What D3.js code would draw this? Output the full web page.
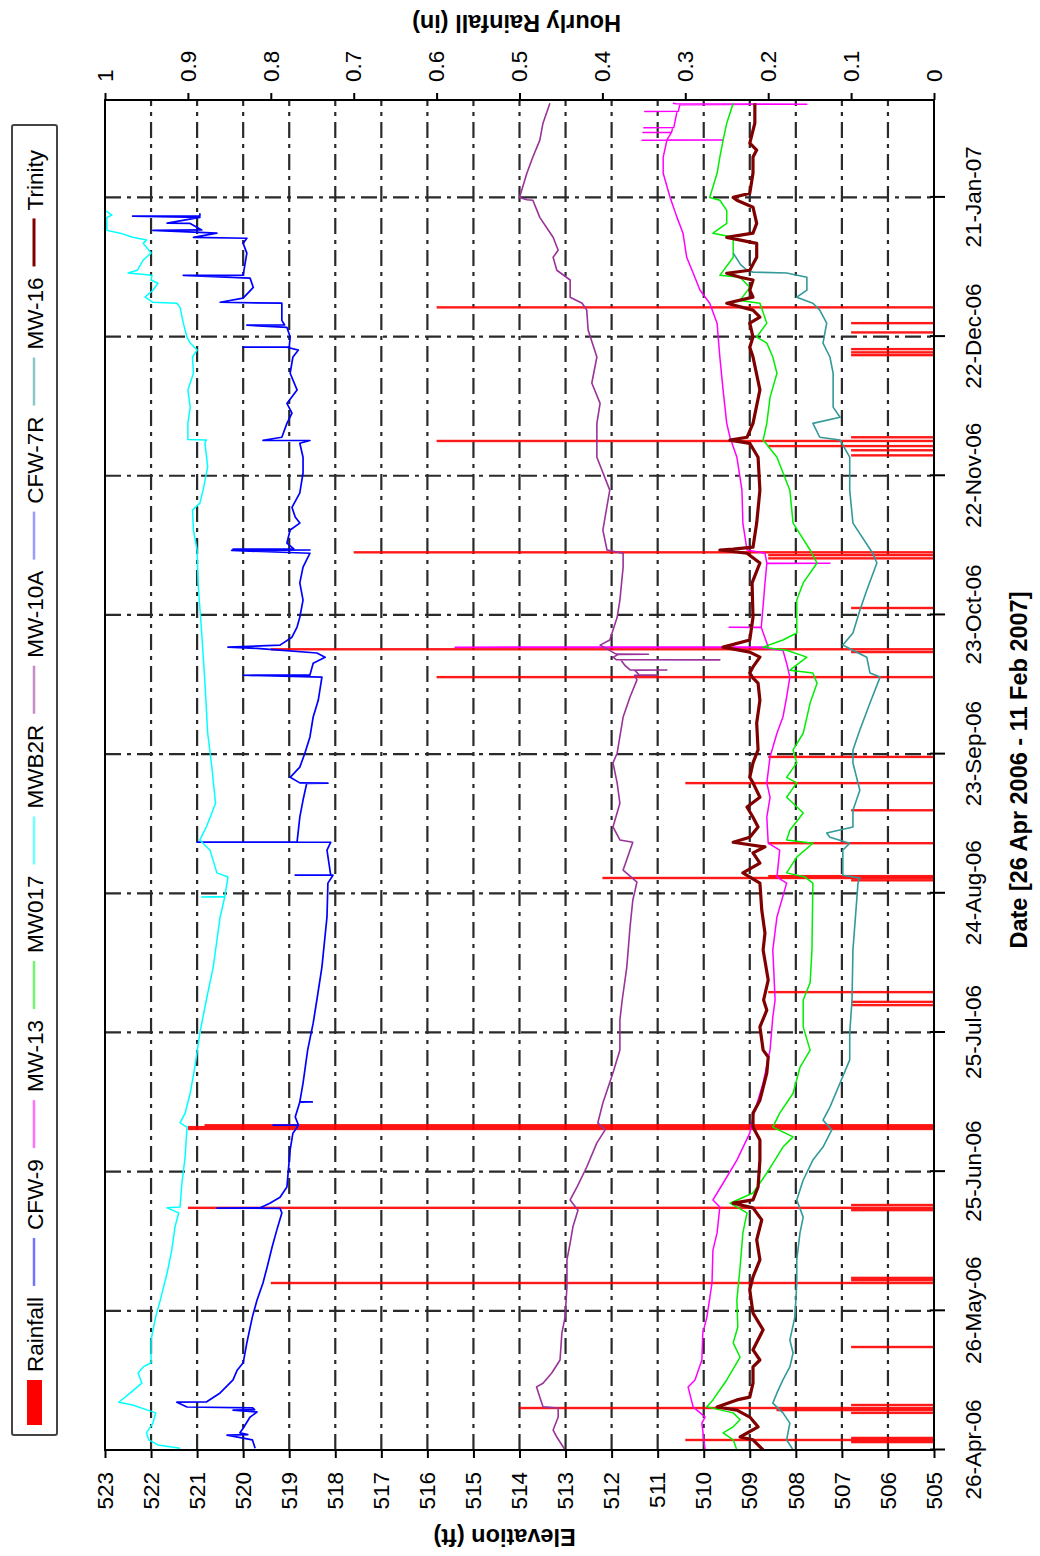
<!DOCTYPE html>
<html>
<head>
<meta charset="utf-8">
<script src="https://cdn.jsdelivr.net/npm/d3@7"></script>
<style>
  body { margin: 0; background: #fff; }
  svg { display: block; }
  text { font-family: "Liberation Sans", Arial, sans-serif; fill: #000; }
</style>
</head>
<body>
<svg id="chart" width="1040" height="1556"></svg>
<script>
// Period of record
const startMs = Date.UTC(2006, 3, 26);
const endMs = Date.UTC(2007, 1, 11);

// Axis ticks
const elevationTicks = d3.range(505, 524, 1);
const rainTicks = [0, 0.1, 0.2, 0.3, 0.4, 0.5, 0.6, 0.7, 0.8, 0.9, 1];
const dateTickDays = [0, 30, 60, 90, 120, 150, 180, 210, 240, 270];

// Hourly rainfall: [days since 26 Apr 2006, inches]
const rainfall = [
  [1.7, 0.1], [2.16, 0.30], [2.6, 0.1],
  [8.0, 0.1], [8.6, 0.19], [9.05, 0.50], [9.7, 0.1],
  [22.2, 0.10],
  [36.0, 0.80], [36.6, 0.1], [37.1, 0.1],
  [51.7, 0.1], [52.2, 0.90], [52.8, 0.1],
  [69.2, 0.90], [69.6, 0.90], [70.0, 0.88],
  [95.9, 0.1], [96.6, 0.1], [98.7, 0.2],
  [122.8, 0.1], [123.3, 0.40], [123.7, 0.2],
  [130.8, 0.20],
  [137.9, 0.10],
  [143.75, 0.30],
  [149.4, 0.20],
  [166.6, 0.60],
  [172.0, 0.1], [172.6, 0.80],
  [181.5, 0.10],
  [192.2, 0.2], [192.9, 0.2], [193.5, 0.70],
  [214.4, 0.1], [215.5, 0.1], [216.4, 0.2], [217.5, 0.60], [218.3, 0.1],
  [236.0, 0.1], [236.6, 0.1], [237.3, 0.1],
  [240.9, 0.1], [242.9, 0.1],
  [246.3, 0.60]
];

// Water levels: [days since 26 Apr 2006, elevation ft]
const cfw9 = [
  [0.4, 519.74], [2.2, 519.8], [3.2, 520.35], [3.3, 519.9], [3.7, 520.07], [4.7, 520.0],
  [7.1, 519.85], [8.2, 519.7], [8.6, 520.22], [8.7, 519.75], [9.1, 519.8], [9.27, 521.22],
  [10.3, 521.44], [10.35, 520.8], [12.3, 520.5], [15.1, 520.22], [17.2, 520.13], [18.8, 520.0],
  [23.1, 519.92], [28.7, 519.8], [32.3, 519.7], [36.0, 519.57], [39.4, 519.48], [43.8, 519.37],
  [47.4, 519.27], [51.1, 519.16], [52.1, 519.2], [52.15, 520.57], [52.2, 519.63], [53.2, 519.42],
  [54.5, 519.2], [56.7, 519.05], [64.7, 518.98], [68.3, 518.92], [70.0, 518.8], [70.02, 519.35],
  [70.05, 518.8], [71.8, 518.87], [75.0, 518.77], [75.02, 518.5], [75.05, 518.77], [79.1, 518.7],
  [86.2, 518.6], [92.0, 518.48], [97.0, 518.4], [104.1, 518.29], [114.9, 518.18], [122.2, 518.16],
  [123.9, 518.05], [123.92, 518.87], [123.95, 518.1], [129.3, 518.18], [131.0, 518.1], [131.02, 521.0],
  [131.05, 518.83], [136.4, 518.77], [140.1, 518.7], [143.7, 518.62], [143.75, 518.16], [143.8, 518.77],
  [145.0, 518.98], [147.2, 518.77], [150.2, 518.66], [153.7, 518.55], [158.0, 518.48], [161.6, 518.37],
  [166.6, 518.29], [167.0, 520.0], [167.05, 518.55], [169.6, 518.48], [170.9, 518.22], [171.8, 518.4],
  [172.6, 519.42], [172.8, 519.7], [173.06, 520.33], [173.5, 519.2], [175.2, 518.94], [177.4, 518.83],
  [179.5, 518.77], [183.2, 518.7], [186.9, 518.77], [190.3, 518.7], [193.3, 518.55], [193.9, 520.25],
  [194.0, 518.55], [194.2, 520.22], [194.25, 518.9], [195.5, 519.05], [198.3, 518.98], [199.8, 518.77],
  [201.1, 518.87], [203.2, 518.94], [206.3, 518.77], [210.6, 518.7], [214.0, 518.7], [217.0, 518.77],
  [217.6, 518.55], [217.65, 519.57], [218.3, 519.16], [221.3, 519.05], [223.5, 518.94], [225.6, 519.05],
  [228.5, 518.83], [232.1, 518.98], [235.6, 518.92], [237.1, 518.8], [237.7, 519.05], [237.72, 520.0],
  [237.75, 519.0], [239.9, 518.98], [242.0, 519.05], [242.46, 519.92], [242.5, 519.1], [243.5, 519.16],
  [247.2, 519.16], [247.4, 520.5], [248.3, 520.0], [250.6, 519.78], [252.6, 519.85], [253.2, 521.3],
  [253.25, 520.0], [258.0, 519.92], [260.1, 520.0], [261.2, 519.92], [261.4, 521.08], [262.3, 520.57],
  [262.9, 521.96], [263.0, 520.9], [264.4, 521.15], [264.45, 521.65], [265.7, 520.94], [265.95, 522.4],
  [266.0, 520.94], [266.6, 520.94]
];

const mw13 = [
  [0, 509.97], [5.8, 510.04], [7.1, 509.97], [9.3, 510.23], [13.6, 510.34], [15.1, 510.19],
  [19.4, 510.04], [25.2, 510.02], [28.7, 509.93], [36.0, 509.82], [43.1, 509.8], [46.8, 509.71],
  [52.4, 509.65], [53.9, 509.8], [57.5, 509.58], [62.5, 509.28], [68.3, 509.0], [71.8, 508.93],
  [79.1, 508.71], [86.2, 508.56], [93.3, 508.5], [97.0, 508.45], [107.8, 508.5], [114.9, 508.41],
  [122.2, 508.2], [123.5, 508.41], [129.3, 508.35], [130.8, 508.6], [136.4, 508.63], [140.7, 508.56],
  [143.8, 508.63], [149.4, 508.56], [154.5, 508.41], [158.0, 508.28], [162.3, 508.2], [166.6, 508.13],
  [169.6, 508.2], [172.4, 508.28], [173.0, 508.85], [173.06, 515.4], [173.1, 508.6], [177.3, 508.75],
  [177.35, 509.45], [177.4, 508.75], [183.2, 508.7], [186.9, 508.67], [191.1, 508.63], [191.15, 507.26],
  [191.2, 508.63], [193.3, 508.67], [194.0, 509.06], [199.8, 509.15], [206.9, 509.17], [214.0, 509.28],
  [218.3, 509.43], [221.3, 509.5], [228.5, 509.58], [235.6, 509.65], [242.9, 509.71], [247.2, 509.87],
  [250.0, 510.08], [253.7, 510.23], [257.1, 510.37], [262.3, 510.45], [265.7, 510.58], [270.0, 510.73],
  [275.2, 510.88], [278.7, 510.88], [282.3, 510.8], [282.33, 511.34], [282.36, 509.58], [282.4, 510.8],
  [284.0, 510.7], [284.02, 511.32], [284.05, 510.7], [285.0, 510.67], [285.02, 511.3], [285.05, 510.65],
  [288.5, 510.58], [288.52, 511.28], [288.55, 510.55], [290.0, 510.52], [290.1, 507.76], [290.2, 510.6],
  [290.3, 510.67]
];

const mw017 = [
  [0, 509.28], [2.2, 509.36], [3.7, 509.58], [5.0, 509.36], [6.5, 509.21], [8.0, 509.36],
  [9.3, 509.93], [10.8, 509.8], [15.1, 509.5], [20.0, 509.21], [23.1, 509.36], [26.5, 509.26],
  [32.3, 509.28], [39.4, 509.21], [46.8, 509.15], [51.1, 509.06], [53.2, 509.43], [55.4, 508.93],
  [59.7, 508.63], [65.3, 508.28], [67.5, 508.06], [69.6, 508.5], [72.6, 508.35], [76.9, 508.06],
  [82.5, 507.91], [86.2, 507.69], [91.2, 507.84], [97.0, 507.84], [100.7, 507.69], [107.8, 507.65],
  [122.2, 507.63], [123.5, 507.8], [124.4, 508.2], [127.8, 507.98], [130.8, 507.63], [131.5, 508.2],
  [133.6, 508.13], [137.3, 507.84], [139.4, 508.06], [140.7, 508.2], [143.8, 507.98], [145.0, 508.2],
  [148.1, 507.98], [150.9, 508.06], [154.5, 507.84], [161.0, 507.69], [165.3, 507.54], [167.5, 507.63],
  [168.1, 508.13], [170.9, 507.76], [172.4, 508.2], [173.06, 508.71], [174.6, 508.28], [176.1, 507.98],
  [183.2, 507.98], [186.9, 507.84], [191.2, 507.54], [194.0, 507.69], [199.8, 508.06], [206.9, 508.13],
  [214.0, 508.41], [217.7, 508.71], [221.3, 508.63], [226.9, 508.56], [232.1, 508.41], [235.6, 508.5],
  [238.6, 508.63], [239.9, 508.85], [242.9, 508.63], [247.2, 508.78], [247.8, 509.21], [250.6, 509.0],
  [252.8, 509.21], [253.2, 509.65], [257.1, 509.36], [261.4, 509.36], [262.3, 509.8], [264.4, 509.5],
  [267.2, 509.5], [269.4, 509.65], [270.0, 509.87], [275.2, 509.71], [278.7, 509.65], [282.3, 509.58],
  [286.0, 509.5], [290.3, 509.36]
];

const mwb2r = [
  [0.4, 521.37], [1.1, 521.85], [2.2, 522.05], [3.7, 522.1], [5.8, 521.96], [8.0, 521.9],
  [9.7, 522.4], [10.3, 522.7], [12.3, 522.45], [14.4, 522.2], [16.6, 522.28], [17.9, 522.17],
  [18.8, 522.0], [23.7, 522.0], [28.7, 521.9], [32.3, 521.8], [38.2, 521.65], [43.1, 521.55],
  [48.1, 521.48], [51.1, 521.4], [52.2, 521.65], [52.4, 521.37], [57.5, 521.33], [63.2, 521.26],
  [69.6, 521.22], [70.5, 521.37], [72.6, 521.26], [76.9, 521.15], [82.5, 521.05], [89.9, 520.94],
  [97.0, 520.8], [104.1, 520.65], [114.9, 520.5], [119.2, 520.4], [119.22, 520.9], [119.3, 520.4],
  [123.5, 520.33], [124.4, 520.57], [129.3, 520.72], [131.5, 520.94], [134.3, 520.8], [137.3, 520.68],
  [139.4, 520.6], [147.2, 520.68], [154.5, 520.77], [165.3, 520.83], [176.1, 520.9], [186.9, 520.98],
  [194.0, 521.0], [198.3, 521.08], [202.6, 521.1], [204.1, 520.94], [206.9, 520.87], [211.9, 520.77],
  [217.0, 520.83], [217.7, 520.8], [217.8, 521.2], [221.3, 521.2], [224.8, 521.15], [228.5, 521.2],
  [232.1, 521.08], [235.6, 521.1], [237.1, 521.0], [238.6, 521.15], [239.9, 521.22], [242.9, 521.3],
  [246.3, 521.37], [247.2, 521.44], [247.4, 521.96], [248.5, 522.13], [250.0, 521.96], [251.5, 521.85],
  [252.2, 522.0], [253.2, 521.98], [253.7, 522.5], [254.3, 522.3], [256.5, 522.17], [258.0, 522.0],
  [260.1, 522.17], [260.8, 522.1], [261.4, 522.4], [262.3, 522.67], [262.9, 522.96], [265.7, 522.96],
  [266.2, 522.85], [267.2, 523.0]
];

const mw10a = [
  [0, 513.01], [2.8, 513.19], [4.3, 513.27], [7.1, 513.16], [9.05, 513.16], [9.3, 513.49],
  [11.4, 513.56], [13.6, 513.63], [14.4, 513.49], [16.6, 513.3], [19.4, 513.12], [25.2, 513.08],
  [28.7, 513.01], [35.1, 512.97], [41.0, 512.97], [44.6, 512.9], [48.1, 512.84], [51.7, 512.73],
  [53.9, 512.9], [56.7, 512.75], [61.0, 512.54], [66.2, 512.32], [69.0, 512.14], [70.5, 512.3],
  [74.8, 512.19], [81.3, 511.97], [86.2, 511.82], [92.7, 511.82], [97.0, 511.77], [104.1, 511.67],
  [112.7, 511.6], [118.5, 511.54], [122.4, 511.45], [125.0, 511.75], [131.0, 511.54], [131.5, 511.82],
  [134.3, 511.97], [139.4, 511.82], [143.8, 511.88], [148.1, 511.97], [150.2, 511.88], [158.0, 511.75],
  [162.3, 511.6], [166.0, 511.45], [167.0, 511.5], [167.02, 511.0], [167.05, 511.4], [168.1, 511.5],
  [168.12, 510.8], [168.15, 511.6], [169.0, 511.7], [170.3, 511.8], [170.32, 509.65], [170.35, 511.9],
  [170.9, 511.97], [171.5, 511.85], [171.52, 511.2], [171.55, 511.9], [173.5, 512.25], [174.6, 512.04],
  [179.5, 511.88], [183.2, 511.82], [190.3, 511.75], [193.3, 511.75], [194.0, 512.1], [198.3, 512.19],
  [206.9, 512.04], [214.0, 512.32], [221.3, 512.32], [225.6, 512.25], [230.0, 512.43], [235.6, 512.32],
  [241.4, 512.51], [245.7, 512.54], [247.2, 512.64], [248.5, 512.9], [252.2, 512.9], [254.3, 513.19],
  [257.1, 513.27], [258.6, 513.16], [261.4, 513.27], [265.7, 513.56], [269.4, 513.71], [269.5, 513.84],
  [270.0, 514.0], [275.2, 513.84], [278.7, 513.71], [282.3, 513.56], [286.0, 513.49], [290.3, 513.34]
];

const cfw7r = [];

const mw16 = [
  [0, 508.06], [2.2, 508.2], [5.8, 508.13], [8.0, 508.28], [10.1, 508.5], [12.3, 508.41],
  [15.1, 508.28], [17.9, 508.13], [20.9, 508.06], [23.7, 508.13], [28.7, 508.02], [36.0, 507.98],
  [41.0, 507.98], [46.8, 507.91], [50.2, 507.84], [53.9, 507.98], [58.2, 507.84], [62.5, 507.63],
  [65.3, 507.41], [69.0, 507.22], [71.1, 507.41], [73.9, 507.26], [79.1, 507.04], [84.1, 506.83],
  [89.9, 506.83], [97.0, 506.78], [107.8, 506.76], [122.2, 506.65], [123.3, 506.61], [123.9, 506.98],
  [129.3, 506.98], [130.8, 506.83], [132.1, 507.26], [133.0, 507.33], [134.3, 506.76], [137.9, 506.76],
  [142.2, 506.61], [148.1, 506.76], [150.9, 506.76], [155.2, 506.61], [161.0, 506.39], [166.6, 506.17],
  [167.5, 506.39], [170.9, 506.46], [172.4, 506.76], [173.5, 506.98], [176.1, 506.76], [181.0, 506.61],
  [185.3, 506.46], [191.2, 506.24], [193.3, 506.33], [199.8, 506.76], [206.9, 506.83], [214.0, 506.83],
  [217.7, 507.04], [218.3, 507.48], [221.3, 507.63], [222.6, 507.04], [224.8, 507.19], [232.1, 507.19],
  [235.6, 507.26], [238.6, 507.41], [242.9, 507.33], [245.7, 507.48], [247.2, 507.63], [248.5, 507.98],
  [250.0, 507.76], [252.8, 507.76], [253.7, 508.2], [253.9, 508.93], [254.3, 509.06], [255.5, 509.2],
  [258.0, 509.36]
];

const trinity = [
  [0, 508.71], [2.2, 508.93], [2.8, 509.21], [5.0, 508.82], [7.1, 509.0], [8.6, 509.28],
  [9.27, 509.71], [10.8, 509.28], [11.4, 509.0], [14.4, 508.93], [17.9, 508.93], [19.4, 508.78],
  [21.6, 508.93], [25.9, 508.71], [29.5, 508.93], [34.5, 509.0], [37.3, 508.93], [41.0, 508.78],
  [45.3, 508.85], [49.6, 508.74], [52.2, 508.93], [53.2, 509.36], [53.9, 508.93], [56.7, 508.82],
  [62.5, 508.78], [66.8, 508.78], [69.6, 508.93], [72.6, 508.93], [75.4, 508.78], [81.3, 508.63],
  [84.7, 508.6], [86.2, 508.71], [91.2, 508.78], [94.8, 508.63], [97.0, 508.7], [101.3, 508.6],
  [107.8, 508.71], [111.4, 508.67], [116.4, 508.74], [122.2, 508.78], [124.4, 509.15], [126.5, 508.78],
  [128.7, 508.93], [130.0, 508.67], [131.0, 509.36], [132.1, 509.0], [134.3, 508.82], [136.4, 508.93],
  [138.6, 509.06], [140.7, 508.78], [143.8, 508.93], [145.0, 509.0], [148.1, 508.93], [150.9, 508.82],
  [156.7, 508.85], [161.6, 508.78], [165.3, 508.82], [166.4, 508.93], [167.5, 509.0], [168.8, 508.93],
  [170.9, 508.78], [172.0, 509.0], [173.06, 509.58], [174.6, 509.0], [179.5, 508.93], [186.9, 508.95],
  [191.2, 508.78], [193.3, 509.06], [194.0, 509.65], [194.2, 509.36], [194.6, 508.93], [199.8, 508.85],
  [206.9, 508.78], [214.0, 508.82], [217.0, 509.0], [217.67, 509.43], [218.3, 509.06], [221.3, 508.93],
  [228.5, 508.78], [235.6, 508.93], [237.7, 509.0], [239.9, 508.93], [242.9, 509.0], [244.2, 508.78],
  [245.7, 508.93], [247.2, 509.5], [248.5, 508.93], [250.0, 509.0], [252.2, 508.93], [252.8, 509.21],
  [253.66, 509.5], [254.3, 509.0], [257.1, 508.85], [260.1, 508.85], [261.4, 509.5], [262.3, 508.93],
  [264.4, 508.85], [267.9, 508.93], [269.4, 509.28], [270.0, 509.36], [270.9, 509.0], [275.2, 508.93],
  [278.7, 508.93], [280.2, 508.85], [281.7, 509.0], [286.0, 508.89], [290.3, 508.89]
];

const seriesNames = ["CFW-9", "MW-13", "MW017", "MWB2R", "MW-10A", "CFW-7R", "MW-16", "Trinity"];
const seriesData = [cfw9, mw13, mw017, mwb2r, mw10a, cfw7r, mw16, trinity];
const seriesColors = ["#0000ff", "#ff00ff", "#00ee00", "#00ffff", "#993399", "#4d4dff", "#339999", "#800000"];
const seriesWidths = [1.7, 1.5, 1.5, 1.5, 1.6, 1.6, 1.6, 3.2];
const rainColor = "#ff0000";

// ---- drawing ----
const DAY = 864e5;
const toDate = d => new Date(startMs + d * DAY);

const svg = d3.select("#chart");
// The chart is laid out landscape (1556 x 1040) and turned a quarter turn onto the page.
const W = 1556, H = 1040;
const root = svg.append("g").attr("transform", `translate(0,${W}) rotate(-90)`);

const plot = { left: 106, right: 1456, top: 105, bottom: 934 };

const x = d3.scaleUtc().domain([new Date(startMs), new Date(endMs)]).range([plot.left, plot.right]);
const y = d3.scaleLinear().domain([505, 523]).range([plot.bottom, plot.top]);
const yRain = d3.scaleLinear().domain([0, 1]).range([plot.bottom, plot.top]);

root.append("rect").attr("x", 0).attr("y", 0).attr("width", W).attr("height", H).attr("fill", "#fff");

root.append("clipPath").attr("id", "plotClip")
  .append("rect")
  .attr("x", plot.left).attr("y", plot.top)
  .attr("width", plot.right - plot.left).attr("height", plot.bottom - plot.top);

// Grid
const grid = root.append("g")
  .attr("stroke", "#2a2a2a").attr("stroke-width", 2.2)
  .attr("stroke-dasharray", "16,6,4,6").attr("fill", "none");
grid.selectAll("line.h").data(elevationTicks.filter(v => v > 505 && v < 523)).join("line")
  .attr("class", "h")
  .attr("x1", plot.left).attr("x2", plot.right)
  .attr("y1", d => y(d)).attr("y2", d => y(d));
grid.selectAll("line.v").data(dateTickDays.filter(d => d > 0)).join("line")
  .attr("class", "v")
  .attr("x1", d => x(toDate(d))).attr("x2", d => x(toDate(d)))
  .attr("y1", plot.top).attr("y2", plot.bottom);

const marks = root.append("g").attr("clip-path", "url(#plotClip)");

// Rainfall bars (secondary axis)
marks.append("g").selectAll("rect").data(rainfall).join("rect")
  .attr("x", d => x(toDate(d[0])) - 1.2)
  .attr("width", 2.4)
  .attr("y", d => yRain(d[1]))
  .attr("height", d => yRain(0) - yRain(d[1]))
  .attr("fill", rainColor)
  .attr("opacity", 0.9);

// Water-level lines
const line = d3.line()
  .x(d => x(toDate(d[0])))
  .y(d => y(d[1]));

seriesData.forEach((data, i) => {
  if (!data.length) return;
  marks.append("path")
    .datum(data)
    .attr("fill", "none")
    .attr("stroke", seriesColors[i])
    .attr("stroke-width", seriesWidths[i])
    .attr("stroke-linejoin", "round")
    .attr("d", line);
});

// Plot frame
root.append("rect")
  .attr("x", plot.left).attr("y", plot.top)
  .attr("width", plot.right - plot.left).attr("height", plot.bottom - plot.top)
  .attr("fill", "none").attr("stroke", "#000").attr("stroke-width", 2);

const fontSize = "22.5px";

// Elevation axis
const yAxis = root.append("g")
  .attr("transform", `translate(${plot.left},0)`)
  .call(d3.axisLeft(y).tickValues(elevationTicks).tickSize(8).tickPadding(14).tickFormat(d3.format("d")));
yAxis.select(".domain").remove();
yAxis.selectAll("line").attr("stroke-width", 2);
yAxis.selectAll("text").style("font-size", fontSize).style("font-family", "'Liberation Sans', Arial, sans-serif");

// Rainfall axis
const rAxis = root.append("g")
  .attr("transform", `translate(${plot.right},0)`)
  .call(d3.axisRight(yRain).tickValues(rainTicks).tickSize(7).tickPadding(11).tickFormat(d3.format("~g")));
rAxis.select(".domain").remove();
rAxis.selectAll("line").attr("stroke-width", 2);
rAxis.selectAll("text").style("font-size", fontSize).style("font-family", "'Liberation Sans', Arial, sans-serif");

// Date axis
const xAxis = root.append("g")
  .attr("transform", `translate(0,${plot.bottom})`)
  .call(d3.axisBottom(x).tickValues(dateTickDays.map(toDate)).tickSize(11).tickPadding(20)
    .tickFormat(d3.utcFormat("%d-%b-%y")));
xAxis.select(".domain").remove();
xAxis.selectAll("line").attr("y1", -4).attr("stroke-width", 2);
xAxis.selectAll("text").style("font-size", fontSize).style("font-family", "'Liberation Sans', Arial, sans-serif");

// Axis titles
root.append("text")
  .attr("x", (plot.left + plot.right) / 2 + 5).attr("y", 1027)
  .attr("text-anchor", "middle")
  .style("font-size", "23.5px").style("font-weight", "bold")
  .text("Date [26 Apr 2006 - 11 Feb 2007]");

root.append("text")
  .attr("transform", `translate(27,${(plot.top + plot.bottom) / 2 - 15}) rotate(-90)`)
  .attr("text-anchor", "middle")
  .style("font-size", "23.5px").style("font-weight", "bold")
  .text("Elevation (ft)");

root.append("text")
  .attr("transform", `translate(1541,${(plot.top + plot.bottom) / 2 - 3}) rotate(-90)`)
  .attr("text-anchor", "middle")
  .style("font-size", "23.5px").style("font-weight", "bold")
  .text("Hourly Rainfall (in)");

// Legend
const legend = root.append("g");
const legendBox = legend.append("rect")
  .attr("x", 121).attr("y", 12).attr("height", 45)
  .attr("fill", "#fff").attr("stroke", "#444").attr("stroke-width", 2).attr("rx", 2);

let cursor = 131;
const sampleLen = 48, sampleGap = 8, itemGap = 11;
// Rainfall swatch
legend.append("rect")
  .attr("x", cursor).attr("y", 27).attr("width", 45).attr("height", 15)
  .attr("fill", rainColor);
cursor += 45 + sampleGap;
const rainLabel = legend.append("text")
  .attr("x", cursor).attr("y", 43)
  .style("font-size", fontSize)
  .text("Rainfall");
cursor += rainLabel.node().getComputedTextLength() + itemGap;

seriesNames.forEach((name, i) => {
  legend.append("line")
    .attr("x1", cursor).attr("x2", cursor + sampleLen)
    .attr("y1", 34).attr("y2", 34)
    .attr("stroke", seriesColors[i])
    .attr("stroke-width", i === 7 ? 3 : 2.5)
    .attr("opacity", i === 7 ? 1 : 0.55);
  cursor += sampleLen + sampleGap;
  const t = legend.append("text")
    .attr("x", cursor).attr("y", 43)
    .style("font-size", fontSize)
    .text(name);
  cursor += t.node().getComputedTextLength() + itemGap;
});
legendBox.attr("width", Math.max(1310, cursor - 121 - itemGap + 8));
</script>
</body>
</html>
